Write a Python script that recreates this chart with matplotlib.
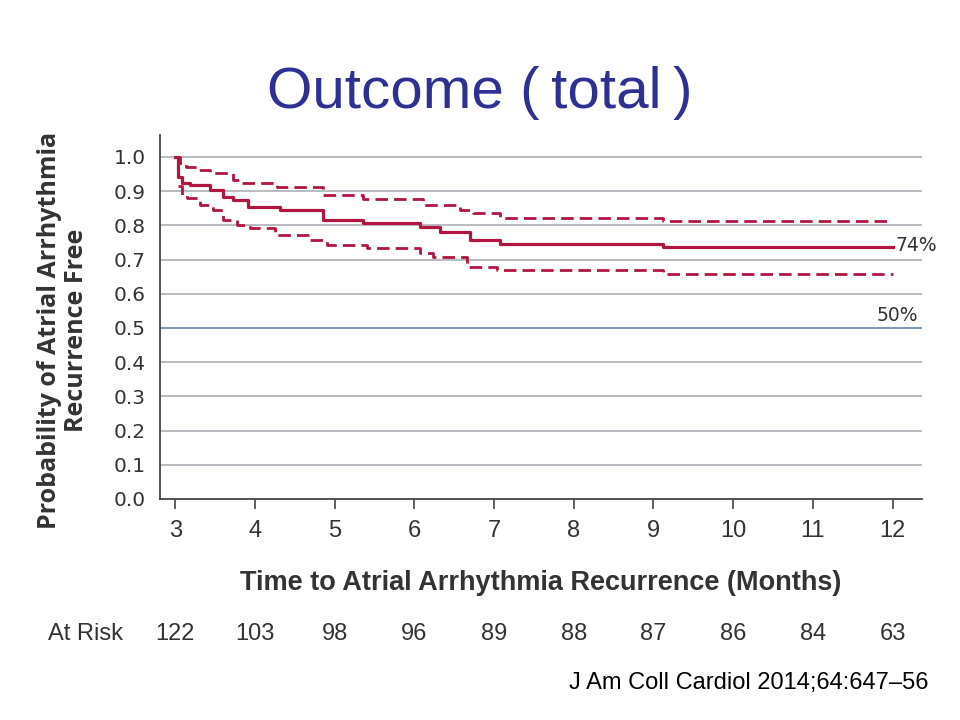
import matplotlib.pyplot as plt
from matplotlib.transforms import blended_transform_factory

# Kaplan-Meier estimate (months, survival)
months = [3.0, 3.04, 3.09, 3.19, 3.44, 3.60, 3.72, 3.92, 4.32, 4.86, 5.36,
          6.07, 6.32, 6.70, 7.08, 9.12, 12.0]
surv = [1.0, 0.940, 0.924, 0.918, 0.903, 0.883, 0.874, 0.854, 0.845, 0.816,
        0.807, 0.795, 0.781, 0.757, 0.746, 0.736, 0.736]

# upper / lower confidence bands
upper_months = [3.0, 3.06, 3.13, 3.28, 3.44, 3.72, 3.84, 4.28, 4.86, 5.36,
                6.11, 6.58, 6.74, 7.08, 9.12, 11.95]
upper = [1.0, 0.982, 0.971, 0.962, 0.953, 0.933, 0.924, 0.912, 0.889, 0.877,
         0.860, 0.845, 0.836, 0.822, 0.812, 0.812]
lower_months = [3.03, 3.09, 3.15, 3.31, 3.48, 3.60, 3.78, 3.94, 4.25, 4.69,
                4.91, 5.41, 6.07, 6.24, 6.66, 7.04, 9.12, 12.0]
lower = [0.914, 0.889, 0.880, 0.860, 0.845, 0.816, 0.801, 0.792, 0.772,
         0.757, 0.743, 0.734, 0.719, 0.708, 0.678, 0.670, 0.658, 0.658]

tick_months = [3, 4, 5, 6, 7, 8, 9, 10, 11, 12]
at_risk = [122, 103, 98, 96, 89, 88, 87, 86, 84, 63]
y_ticks = [0.0, 0.1, 0.2, 0.3, 0.4, 0.5, 0.6, 0.7, 0.8, 0.9, 1.0]

red = '#B0163F'
text_col = '#333333'
narrow = ['Liberation Sans Narrow', 'Liberation Sans', 'DejaVu Sans']

fig = plt.figure(figsize=(9.6, 7.2), dpi=100)
ax = fig.add_axes([160 / 960, 1 - 499 / 720, (922 - 160) / 960, (499 - 135) / 720])

for y in y_ticks[1:]:
    if y == 0.5:
        ax.axhline(y, color='#7090AC', lw=1.3, zorder=1)
    else:
        ax.axhline(y, color='#B4B4BC', lw=1.3, zorder=1)

ax.step(months, surv, where='post', color=red, lw=2.3, zorder=3)
ax.step(upper_months, upper, where='post', color=red, lw=2.0,
        dashes=(4.5, 2.2), zorder=3)
ax.step(lower_months, lower, where='post', color=red, lw=2.0,
        dashes=(4.5, 2.2), zorder=3)

ax.set_xlim(2.81, 12.37)
ax.set_ylim(0, 1.064)
ax.set_xticks(tick_months)
ax.set_xticklabels([str(m) for m in tick_months], family=narrow,
                   fontsize=17, color=text_col)
ax.set_yticks(y_ticks)
ax.set_yticklabels([f'{y:.1f}' for y in y_ticks], family='DejaVu Sans',
                   fontsize=14.5, color=text_col)
ax.tick_params(axis='x', direction='out', length=7, width=1.2,
               color='#444444', pad=8)
ax.tick_params(axis='y', length=0, pad=10)
for side in ['top', 'right']:
    ax.spines[side].set_visible(False)
for side in ['left', 'bottom']:
    ax.spines[side].set_color('#444444')
    ax.spines[side].set_linewidth(1.3)

ax.text(12.04, 0.74, '74%', fontsize=13.5, color=text_col, va='center',
        family='DejaVu Sans')
ax.text(12.32, 0.51, '50%', fontsize=13.5, color=text_col, va='bottom',
        ha='right', family='DejaVu Sans')

ax.set_xlabel('Time to Atrial Arrhythmia Recurrence (Months)', family=narrow,
              fontsize=19.5, fontweight='bold', color=text_col, labelpad=20)
fig.text(0.066, 0.541, 'Probability of Atrial Arrhythmia\nRecurrence Free',
         rotation=90, ha='center', va='center', family='Open Sans',
         fontweight='bold', fontsize=18, color=text_col, linespacing=1.1)

# at-risk row under the axis
trans = blended_transform_factory(ax.transData, fig.transFigure)
fig.text(0.05, 0.119, 'At Risk', family=narrow, fontsize=17,
         color=text_col, va='center')
for m, n in zip(tick_months, at_risk):
    ax.text(m, 0.119, str(n), transform=trans, ha='center', va='center',
            family=narrow, fontsize=17, color=text_col)

fig.text(0.5, 1 - 108 / 720, 'Outcome (\u2009total\u2009)', ha='center',
         va='baseline', family=['Liberation Sans', 'DejaVu Sans'],
         fontsize=42, color='#2E3192')
fig.text(0.967, 0.051, 'J Am Coll Cardiol 2014;64:647\u201356', ha='right',
         va='center', family=['Liberation Sans', 'DejaVu Sans'], fontsize=17,
         color='black')

fig.savefig('out.png', dpi=100)
